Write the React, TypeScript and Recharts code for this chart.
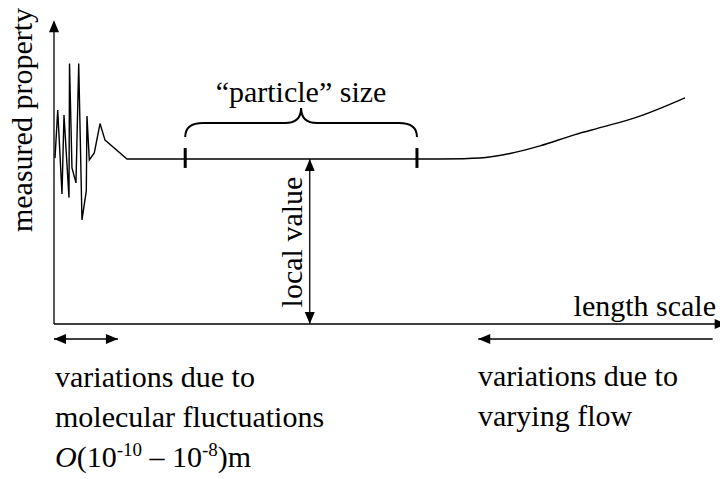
import React from 'react';
import { ComposedChart, Line, XAxis, YAxis, ReferenceLine, ReferenceDot, Customized } from 'recharts';

// Schematic: measured property vs. length scale (arbitrary units 0-100)
const lengthScale = [0.15, 0.56, 1.2, 1.5, 2.25, 2.33, 2.7, 3.3, 3.71, 4.2, 4.85, 4.95, 5.3, 6.05, 6.91, 7.66, 10.96, 57.96];
const measuredProperty = [54.2, 69.9, 42.5, 68.3, 41.3, 85.1, 51.0, 46.1, 85.1, 34.0, 43.5, 68.0, 53.6, 55.9, 65.5, 60.1, 53.9, 53.9];
const flowScale = [57.96, 63.96, 68.47, 72.97, 78.23, 82.43, 87.54, 94.74];
const flowProperty = [53.9, 54.25, 55.7, 58.2, 61.9, 64.4, 67.6, 73.9];

const particleRange = [19.7, 54.5];
const particleTickSpan = [51.0, 57.5];
const braceLevel = 65.7;
const localX = 38.4;
const localValue = 53.9;
const yAxisTop = 99.3;
const xAxisEnd = 101;
const bandLevel = -4.9;
const molecularRange = [0, 9.6];
const flowRange = [63.7, 98.9];

const axisTitles = ['measured property', 'length scale'];
const annotationTexts = ['\u201Cparticle\u201D size', 'local value'];
const leftNote = ['variations due to', 'molecular fluctuations'];
const rightNote = ['variations due to', 'varying flow'];

const smallScaleData = lengthScale.map((x, i) => ({ x, y: measuredProperty[i] }));
const flowData = flowScale.map((x, i) => ({ x, y: flowProperty[i] }));

const FONT = '"Liberation Serif", "Times New Roman", Times, serif';

const arrow = (dir: 'up' | 'down' | 'left' | 'right', len = 12, half = 5) => (props: any) => {
  const { cx, cy } = props;
  let pts = '';
  if (dir === 'up') pts = `${cx},${cy} ${cx - half},${cy + len} ${cx + half},${cy + len}`;
  if (dir === 'down') pts = `${cx},${cy} ${cx - half},${cy - len} ${cx + half},${cy - len}`;
  if (dir === 'left') pts = `${cx},${cy} ${cx + len},${cy - half} ${cx + len},${cy + half}`;
  if (dir === 'right') pts = `${cx},${cy} ${cx - len},${cy - half} ${cx - len},${cy + half}`;
  return <polygon points={pts} fill="#000" stroke="none" />;
};

const braceShape = (props: any) => {
  const { x1, y1, x2 } = props;
  const xm = (x1 + x2) / 2;
  const yH = y1;
  const yEnd = yH + 14;
  const yPeak = yH - 15;
  const d = `M ${x1},${yEnd} Q ${x1},${yH} ${x1 + 18},${yH} L ${xm - 16},${yH} Q ${xm},${yH} ${xm},${yPeak} Q ${xm},${yH} ${xm + 16},${yH} L ${x2 - 18},${yH} Q ${x2},${yH} ${x2},${yEnd}`;
  return <path d={d} fill="none" stroke="#000" strokeWidth={2} />;
};

function Annotations() {
  const ts = { fontFamily: FONT, fontSize: 30, fill: '#000' } as React.CSSProperties;
  return (
    <g style={ts}>
      <text style={ts} x={32} y={120} textAnchor="middle" transform="rotate(-90 32 120)">{axisTitles[0]}</text>
      <text style={ts} x={716} y={316} textAnchor="end">{axisTitles[1]}</text>
      <text style={ts} x={301} y={102} textAnchor="middle">{annotationTexts[0]}</text>
      <text style={ts} x={302} y={242} textAnchor="middle" transform="rotate(-90 302 242)">{annotationTexts[1]}</text>
      <text style={ts} x={55} y={387}>{leftNote[0]}</text>
      <text style={ts} x={55} y={427}>{leftNote[1]}</text>
      <text style={ts} x={55} y={467}>
        <tspan fontStyle="italic">O</tspan>
        <tspan>(10</tspan>
        <tspan style={{ fontSize: 19 }} dy={-11}>-10</tspan>
        <tspan dy={11}> – 10</tspan>
        <tspan style={{ fontSize: 19 }} dy={-11}>-8</tspan>
        <tspan dy={11}>)m</tspan>
      </text>
      <text style={ts} x={478} y={386}>{rightNote[0]}</text>
      <text style={ts} x={478} y={426}>{rightNote[1]}</text>
    </g>
  );
}

export default function App() {
  return (
    <div style={{ position: 'absolute', left: 0, top: 0, width: 720, height: 479, background: '#fff' }}>
      <ComposedChart width={720} height={479} margin={{ top: 18, right: 0, bottom: 155, left: 54 }}>
        <XAxis dataKey="x" type="number" domain={[0, 100]} hide />
        <YAxis type="number" domain={[0, 100]} hide />
        {/* axes */}
        <ReferenceLine segment={[{ x: 0, y: 0 }, { x: 0, y: yAxisTop - 2 }]} stroke="#000" strokeWidth={1.3} ifOverflow="visible" />
        <ReferenceDot x={0} y={yAxisTop} ifOverflow="visible" shape={arrow('up')} />
        <ReferenceLine segment={[{ x: 0, y: 0 }, { x: xAxisEnd - 1, y: 0 }]} stroke="#000" strokeWidth={1.3} ifOverflow="visible" />
        <ReferenceDot x={xAxisEnd} y={0} ifOverflow="visible" shape={arrow('right')} />
        {/* series */}
        <Line data={smallScaleData} dataKey="y" type="linear" dot={false} activeDot={false} stroke="#000" strokeWidth={1.4} isAnimationActive={false} />
        <Line data={flowData} dataKey="y" type="monotone" dot={false} activeDot={false} stroke="#000" strokeWidth={1.4} isAnimationActive={false} />
        {/* particle size markers */}
        <ReferenceLine segment={[{ x: particleRange[0], y: particleTickSpan[0] }, { x: particleRange[0], y: particleTickSpan[1] }]} stroke="#000" strokeWidth={3} ifOverflow="visible" />
        <ReferenceLine segment={[{ x: particleRange[1], y: particleTickSpan[0] }, { x: particleRange[1], y: particleTickSpan[1] }]} stroke="#000" strokeWidth={3} ifOverflow="visible" />
        <ReferenceLine segment={[{ x: particleRange[0], y: braceLevel }, { x: particleRange[1], y: braceLevel }]} ifOverflow="visible" shape={braceShape} />
        {/* local value double arrow */}
        <ReferenceLine segment={[{ x: localX, y: 0 }, { x: localX, y: localValue }]} stroke="#000" strokeWidth={1.3} ifOverflow="visible" />
        <ReferenceDot x={localX} y={localValue} ifOverflow="visible" shape={arrow('up')} />
        <ReferenceDot x={localX} y={0} ifOverflow="visible" shape={arrow('down')} />
        {/* bottom range arrows */}
        <ReferenceLine segment={[{ x: molecularRange[0], y: bandLevel }, { x: molecularRange[1], y: bandLevel }]} stroke="#000" strokeWidth={1.3} ifOverflow="visible" />
        <ReferenceDot x={molecularRange[0]} y={bandLevel} ifOverflow="visible" shape={arrow('left')} />
        <ReferenceDot x={molecularRange[1]} y={bandLevel} ifOverflow="visible" shape={arrow('right')} />
        <ReferenceLine segment={[{ x: flowRange[0], y: bandLevel }, { x: flowRange[1], y: bandLevel }]} stroke="#000" strokeWidth={1.3} ifOverflow="visible" />
        <ReferenceDot x={flowRange[0]} y={bandLevel} ifOverflow="visible" shape={arrow('left')} />
        <Customized component={Annotations} />
      </ComposedChart>
    </div>
  );
}
